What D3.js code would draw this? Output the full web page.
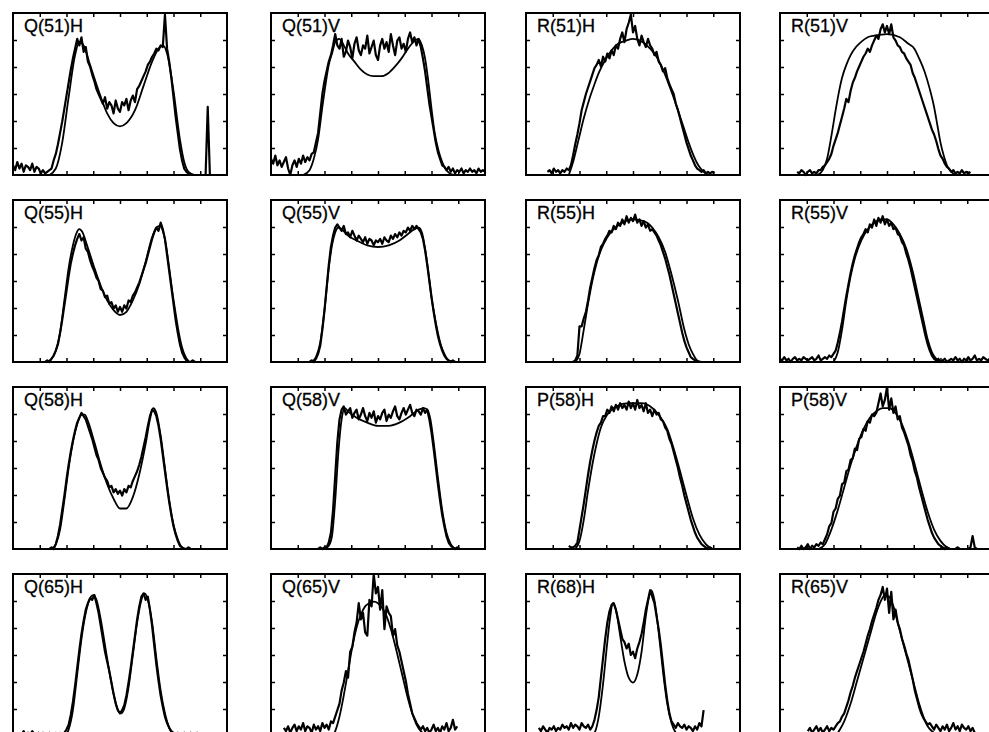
<!DOCTYPE html>
<html>
<head>
<meta charset="utf-8">
<script src="https://cdn.jsdelivr.net/npm/d3@7"></script>
<style>
  body { margin: 0; background: #fff; }
  svg { display: block; background: #fff; }
</style>
</head>
<body>
<svg id="chart" width="989" height="732"></svg>
<script>
// panel labels, row by row
const labels = [
  "Q(51)H", "Q(51)V", "R(51)H", "R(51)V",
  "Q(55)H", "Q(55)V", "R(55)H", "R(55)V",
  "Q(58)H", "Q(58)V", "P(58)H", "P(58)V",
  "Q(65)H", "Q(65)V", "R(68)H", "R(65)V"
];

// first channel of each measured trace (channels 0..100 across a panel)
const obsStart = [0, 0, 10, 8, 15, 18, 22, 0, 17, 22, 20, 8, 3, 6, 6, 13];

// measured intensity (0..100), one value per channel from obsStart on
const obsValues = [
  [6,3,8,4,7,2,6,5,3,7,2,5,4,1,3,1,2,3,4,9,13,19,26,33,41,49,57,65,72,78,84,80,85,76,79,70,67,62,58,53,50,47,44,48,41,45,43,38,46,41,39,45,43,47,40,46,49,45,53,55,58,61,64,68,70,73,75,78,77,80,79,99,78,70,60,48,36,26,16,9,4,2,1,0,0,0,0,0,0,0,0,42,0,0,0,0,0,0,0,0,0],
  [10,7,12,6,9,5,8,11,4,0,6,9,5,10,7,12,8,11,9,13,14,20,26,38,50,58,64,70,74,80,87,80,78,84,73,76,83,79,72,81,85,77,74,80,78,86,75,79,83,74,71,80,84,78,82,76,87,80,74,83,85,78,81,76,84,88,82,85,80,84,79,72,64,54,44,36,28,20,14,10,6,5,3,5,2,4,1,3,2,4,1,3,2,4,2,3,1,4,2,3,2],
  [2,3,1,4,2,3,1,3,2,4,3,6,12,19,25,32,40,45,50,54,58,62,66,68,71,67,73,70,75,72,77,74,80,78,84,88,82,90,94,99,88,92,84,80,86,82,79,84,80,78,74,76,70,68,64,66,60,56,53,50,44,40,35,30,25,20,16,12,9,6,4,3,2,3,1,2,1,2,1],
  [2,1,3,2,0,2,3,1,2,1,3,3,5,6,8,10,13,18,22,26,31,36,41,47,45,52,57,60,64,67,70,73,75,78,76,80,83,86,84,90,93,88,92,87,93,85,83,80,79,76,75,72,70,68,63,60,56,52,48,44,40,36,32,28,25,21,16,12,10,7,5,4,2,3,1,2,1,3,1,2,1,2],
  [0,1,0,2,4,7,11,18,26,35,44,53,61,67,72,76,79,75,77,70,68,63,59,56,52,50,45,44,40,41,36,37,33,35,31,34,31,35,33,38,37,41,43,46,49,53,57,61,66,71,76,80,83,81,86,82,76,66,56,46,36,26,18,11,6,3,1,0,0,1,0],
  [0,1,0,2,5,10,20,32,46,60,71,78,83,85,83,81,84,79,80,77,81,78,75,78,76,74,77,73,76,75,72,75,74,76,73,77,75,74,78,76,79,77,80,78,81,80,83,81,84,82,84,82,80,76,69,60,50,40,31,23,16,11,7,4,2,1,0,1,0,0],
  [0,1,4,22,22,27,31,38,46,52,58,63,66,71,73,76,78,81,80,84,82,86,84,88,85,90,86,89,87,91,86,88,84,87,83,85,81,82,80,78,75,72,68,64,59,54,48,42,36,30,24,18,13,9,6,3,2,1,0,0],
  [2,1,3,1,2,0,2,3,1,2,1,3,2,1,2,3,1,2,4,1,2,3,2,4,3,5,7,12,18,25,33,41,48,55,61,66,70,74,77,79,82,80,85,83,88,84,89,86,90,85,88,84,86,82,83,79,78,74,72,67,63,58,52,46,40,34,28,22,16,11,7,4,2,1,2,0,1,2,0,1,2,1,3,1,2,0,2,1,3,1,2,4,1,2,1,3,2,1,2,1,2],
  [0,1,0,3,8,15,24,33,43,52,60,67,73,78,81,84,82,80,76,72,68,63,58,55,50,47,44,42,38,39,35,37,34,36,33,37,35,39,38,42,45,48,52,57,63,69,76,82,86,85,82,76,68,58,48,38,29,21,14,9,5,2,1,0,0,1,0],
  [0,1,0,1,1,4,10,24,45,66,80,86,88,83,85,87,81,84,86,80,83,87,82,79,84,81,85,78,82,80,84,86,79,83,81,85,88,82,80,84,87,83,86,89,84,82,86,85,83,87,84,86,80,72,62,51,40,30,21,14,8,4,2,1,0,1,0],
  [2,1,1,2,4,12,20,28,37,46,54,61,67,72,76,78,82,82,86,84,88,85,89,86,90,87,89,86,91,87,90,86,92,87,89,85,90,84,86,82,86,83,84,80,79,75,73,68,65,60,55,50,44,39,33,28,23,18,14,10,7,5,3,2,1,0,1,0],
  [1,0,2,0,1,3,0,2,1,3,2,4,3,6,9,14,16,23,25,31,33,40,41,48,49,55,56,62,61,68,69,74,73,79,78,83,82,84,90,96,88,92,100,86,93,84,88,80,82,75,72,68,64,58,54,48,44,38,33,28,23,18,14,10,7,5,3,2,1,0,1,0,0,0,0,1,0,0,0,0,0,1,8,1,0,0],
  [2,1,3,0,2,1,3,1,0,2,1,2,0,1,2,0,1,2,1,2,1,2,4,7,13,21,31,42,53,63,71,78,82,85,84,87,82,76,68,60,52,46,40,33,26,20,16,14,16,19,25,33,42,52,62,72,80,86,88,84,86,78,68,56,44,34,25,18,12,8,5,3,2,1,2,0,1,2,0,1,2,0,1,2,0,1],
  [5,3,6,2,5,7,3,6,4,8,3,6,5,2,7,4,6,3,8,5,7,4,9,8,12,16,20,28,33,40,36,52,55,64,70,82,72,76,64,62,84,80,100,88,92,78,90,66,80,76,74,62,66,56,52,46,40,34,26,20,14,11,8,6,4,6,3,5,2,4,7,3,5,2,6,4,8,3,5,10,4,6],
  [5,3,6,4,2,5,4,6,3,5,4,7,5,6,4,8,5,7,6,4,8,6,5,7,4,6,10,16,24,36,48,60,70,77,81,82,78,72,66,60,58,54,57,50,52,48,54,58,63,70,78,84,90,86,82,74,66,56,44,32,22,14,9,7,5,8,6,5,7,4,6,5,3,6,4,8,6,16],
  [3,5,2,4,6,3,5,2,4,6,3,5,4,6,8,9,12,14,18,22,27,31,36,40,44,48,52,57,62,66,71,75,79,84,87,92,84,91,76,89,72,78,70,66,60,56,51,47,41,35,28,23,18,14,11,9,7,8,6,4,7,5,3,6,4,7,3,5,8,4,6,3,7,5,4,6,3,5,2]
];

// fitted profile: [channel, intensity]
const fitPoints = [
  [[17,0],[20,4],[23,20],[26,48],[29,74],[31,82],[33,80],[36,68],[40,52],[44,38],[47,32],[50,30],[53,32],[57,40],[61,55],[65,70],[68,78],[70,80],[72,75],[75,52],[78,22],[80,8],[82,2],[85,0]],
  [[15,0],[18,3],[20,10],[22,22],[24,42],[25.5,56],[27,68],[28.7,76],[30,82],[31.8,84],[34,80],[36,75],[39,70],[42,65],[45,62],[48,61],[51.5,61],[55,63],[58,67],[61,72],[64,78],[66.5,82],[68.8,84],[70.5,80],[72,72],[73.5,58],[75,41],[76.5,26],[78.3,15],[80,8],[81.5,4],[83.5,1],[85.5,0]],
  [[20,0],[22,8],[24.6,22],[27,35],[29.4,46],[32,56],[34,63],[37,71],[40,77],[43,81],[46.8,83],[50,84],[54.6,82],[58,78],[61,73],[64,65],[67,55],[70,44],[73.5,30],[76,20],[78.3,12],[80.5,6],[83,2],[85.5,0]],
  [[17.6,0],[20,3],[22,10],[24,24],[26,40],[27.5,51],[29,60],[31,68],[33,74],[35.5,79],[37.8,82],[41,85],[44,86],[50,87],[56,85],[60,81],[62.8,78],[65,72],[67.5,64],[70,53],[72,42],[73.5,31],[75,20],[76.5,12],[78,6],[80,2],[82,0]],
  [[16,0],[18,2],[20,7],[22,18],[24,38],[26,58],[28,72],[29.5,79],[31,82],[32.5,80],[34.6,72],[37.8,59],[41,47],[44,38],[47,32],[50,29],[53,31],[56,38],[59,48],[62,62],[65,77],[67,83],[68.5,84],[70,81],[71.5,72],[73,58],[74.5,43],[76,30],[77.5,18],[79,9],[80.7,3],[82.5,0]],
  [[19,0],[21,3],[23,12],[25,32],[27,58],[28.5,72],[30,80],[31.5,83],[33,82],[36,78],[40,75],[45,72],[50,71],[55,72],[60,75],[64,79],[67,82],[69,83],[70.5,80],[72,70],[73.5,56],[75,40],[76.5,28],[78,18],[79.5,10],[81,5],[83,1],[85,0]],
  [[23,0],[25,5],[27,20],[29,36],[31,50],[33,61],[35,69],[38,77],[41,82],[45,86],[50,88],[55,87],[59,83],[62,77],[65,68],[68,54],[71,38],[74,20],[76,11],[78,5],[80,1],[82,0]],
  [[25,0],[27,6],[29,20],[31,38],[33,53],[35,64],[38,75],[41,82],[44,86],[47,88],[50,88],[53,85],[56,79],[59,70],[62,56],[65,38],[67,26],[69,14],[71,6],[73,2],[75,0]],
  [[18,0],[20,3],[22,12],[24,30],[26,50],[28,66],[30,77],[32,83],[33.5,83],[35,79],[38,66],[41,52],[44,40],[47,31],[50,25],[53,25],[56,32],[59,46],[62,65],[64,80],[65.5,87],[67,84],[69,70],[71,50],[73,30],[75,15],[77,6],[79,1],[81,0]],
  [[25,0],[27,2],[28.5,8],[30,30],[31.5,60],[33,80],[34.5,87],[36,85],[40,81],[45,78],[50,76],[55,76],[60,78],[65,82],[69,86],[71.5,87],[73,86],[74.5,80],[76,66],[78,44],[80,24],[82,10],[84,3],[86,0]],
  [[23,0],[25,5],[27,18],[29,36],[31,52],[33,65],[35,75],[38,83],[42,88],[48,90],[54,90],[59,87],[63,81],[66,74],[69,62],[72,48],[75,33],[78,19],[81,9],[84,3],[87,0]],
  [[18,0],[21,3],[24,12],[27,24],[30,38],[33,52],[36,64],[39,74],[42,81],[45,85],[48,87],[51,87],[54,84],[57,77],[60,66],[63,52],[66,37],[69,23],[72,12],[75,5],[78,1],[80,0]],
  [[24,0],[26,4],[28,16],[30,38],[32,60],[34,76],[36,85],[37.5,87],[39,84],[41,72],[43,56],[45,40],[47,26],[49,16],[50.5,14],[52,17],[54,30],[56,50],[58,70],[60,84],[61.5,88],[63,84],[65,70],[67,48],[69,28],[71,14],[73,5],[75,1],[77,0]],
  [[28,0],[30,3],[32,12],[34,25],[36,40],[38,55],[40,67],[42,75],[44,80],[46,82],[48,83],[50,82],[52,79],[54,74],[56,66],[58,56],[60,45],[62,34],[64,23],[66,14],[68,7],[70,3],[72,1],[74,0]],
  [[30,0],[32,2],[34,12],[36,32],[38,58],[39.5,75],[40.5,82],[42,78],[44,62],[46,46],[48,36],[50,33],[52,38],[54,52],[56,74],[57.5,86],[58.5,90],[60,84],[62,64],[64,40],[66,20],[68,8],[70,2],[72,0]],
  [[26,0],[28,4],[30,9],[33,20],[36,34],[39,48],[42,62],[45,76],[47,83],[49,87],[51,86],[53,80],[55,70],[57,60],[59,50],[61,40],[63,30],[65,20],[67,12],[69,6],[71,3],[73,1],[75,0]]
];

// layout of the 4x4 grid
const colLeft = [13, 271, 526, 780];
const rowTop = [13, 200, 387, 574];
const panelW = 214, panelH = 162;

const svg = d3.select("#chart");

labels.forEach((label, i) => {
  const left = colLeft[i % 4], top = rowTop[Math.floor(i / 4)];
  const x = d3.scaleLinear().domain([0, 100]).range([left, left + panelW]);
  const y = d3.scaleLinear().domain([0, 100]).range([top + panelH, top]);
  const g = svg.append("g");

  // inward ticks on all four sides
  const xt = d3.range(1, 8).map(k => k * 12.5);
  const yt = d3.range(1, 6).map(k => k * 100 / 6);
  const sides = [
    [d3.axisBottom(x).tickValues(xt), `translate(0,${top + panelH})`],
    [d3.axisTop(x).tickValues(xt), `translate(0,${top})`],
    [d3.axisLeft(y).tickValues(yt), `translate(${left},0)`],
    [d3.axisRight(y).tickValues(yt), `translate(${left + panelW},0)`]
  ];
  sides.forEach(([ax, tr]) => {
    g.append("g")
      .attr("transform", tr)
      .call(ax.tickSize(-4).tickSizeOuter(0).tickFormat(""))
      .call(a => a.select(".domain").remove())
      .selectAll("line").attr("stroke", "#000").attr("stroke-width", 1.5);
  });

  // frame
  g.append("rect")
    .attr("x", left).attr("y", top)
    .attr("width", panelW).attr("height", panelH)
    .attr("fill", "none").attr("stroke", "#000").attr("stroke-width", 2);

  // fitted curve
  const fitLine = d3.line()
    .x(d => x(d[0])).y(d => y(d[1]))
    .curve(d3.curveMonotoneX);
  g.append("path")
    .attr("d", fitLine(fitPoints[i]))
    .attr("fill", "none").attr("stroke", "#000").attr("stroke-width", 1.8);

  // measured trace
  const obsLine = d3.line()
    .x((d, j) => x(obsStart[i] + j)).y(d => y(d));
  g.append("path")
    .attr("d", obsLine(obsValues[i]))
    .attr("fill", "none").attr("stroke", "#000")
    .attr("stroke-width", 2.2).attr("stroke-linejoin", "round");

  g.append("text")
    .attr("x", left + 11).attr("y", top + 19)
    .attr("font-family", "'Liberation Sans', Arial, sans-serif")
    .attr("font-size", "18px")
    .attr("fill", "#000")
    .attr("stroke", "#000").attr("stroke-width", 0.3)
    .text(label);
});
</script>
</body>
</html>
